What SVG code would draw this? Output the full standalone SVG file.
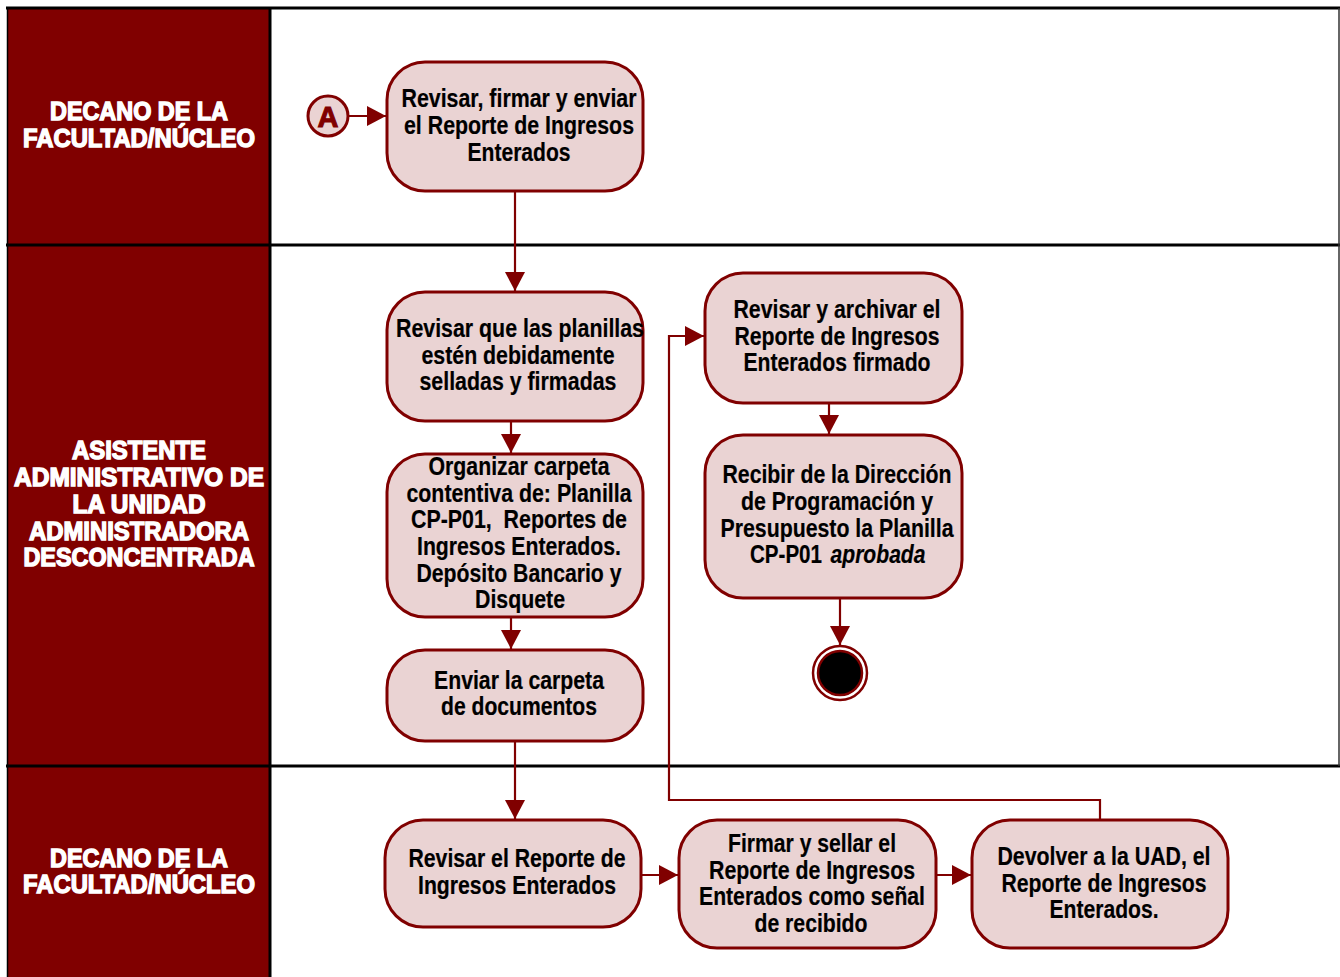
<svg xmlns="http://www.w3.org/2000/svg" width="1340" height="977" viewBox="0 0 1340 977">
<style>
.lane{fill:#800000}
.hdr{font-family:"Liberation Sans",Arial,sans-serif;font-weight:bold;font-size:25px;fill:#fff;stroke:#fff;stroke-width:1.4;text-anchor:middle}
.box{fill:#ead3d3;stroke:#800000;stroke-width:3}
.t{font-family:"Liberation Sans Narrow","Liberation Sans",Arial,sans-serif;font-weight:bold;font-size:25px;fill:#000;stroke:#000;stroke-width:0.2;text-anchor:middle}
.c{fill:none;stroke:#800000;stroke-width:2.2}
.grid{stroke:#000;stroke-width:3}
</style>
<defs>
<marker id="ah" markerUnits="userSpaceOnUse" markerWidth="20" markerHeight="20" refX="19" refY="10" orient="auto">
<path d="M0,0 L19,10 L0,20 Z" fill="#800000"/>
</marker>
</defs>
<rect x="0" y="0" width="1340" height="977" fill="#fff"/>
<g id="lanes">
<rect class="lane" x="8" y="9" width="262" height="968"/>
<line class="grid" x1="6" y1="8" x2="1340" y2="8"/>
<line x1="7.5" y1="8" x2="7.5" y2="977" stroke="#000" stroke-width="1.5"/>
<line class="grid" x1="270" y1="8" x2="270" y2="977"/>
<line class="grid" x1="6" y1="245" x2="1340" y2="245"/>
<line class="grid" x1="6" y1="766" x2="1340" y2="766"/>
<line x1="1339" y1="8" x2="1339" y2="766" stroke="#333" stroke-width="1.5"/>
<text class="hdr" x="139" y="120" textLength="178" lengthAdjust="spacingAndGlyphs">DECANO DE LA</text>
<text class="hdr" x="139" y="147" textLength="232" lengthAdjust="spacingAndGlyphs">FACULTAD/NÚCLEO</text>
<text class="hdr" x="139" y="459" textLength="134" lengthAdjust="spacingAndGlyphs">ASISTENTE</text>
<text class="hdr" x="139" y="486" textLength="250" lengthAdjust="spacingAndGlyphs">ADMINISTRATIVO DE</text>
<text class="hdr" x="139" y="513" textLength="133" lengthAdjust="spacingAndGlyphs">LA UNIDAD</text>
<text class="hdr" x="139" y="540" textLength="220" lengthAdjust="spacingAndGlyphs">ADMINISTRADORA</text>
<text class="hdr" x="139" y="566" textLength="231" lengthAdjust="spacingAndGlyphs">DESCONCENTRADA</text>
<text class="hdr" x="139" y="867" textLength="178" lengthAdjust="spacingAndGlyphs">DECANO DE LA</text>
<text class="hdr" x="139" y="893" textLength="232" lengthAdjust="spacingAndGlyphs">FACULTAD/NÚCLEO</text>
</g>
<g id="connectors">
<line class="c" x1="349" y1="116" x2="386" y2="116" marker-end="url(#ah)"/>
<line class="c" x1="515" y1="192" x2="515" y2="291" marker-end="url(#ah)"/>
<line class="c" x1="511" y1="422" x2="511" y2="453" marker-end="url(#ah)"/>
<line class="c" x1="511" y1="618" x2="511" y2="649" marker-end="url(#ah)"/>
<line class="c" x1="515" y1="742" x2="515" y2="819" marker-end="url(#ah)"/>
<line class="c" x1="642" y1="875" x2="678" y2="875" marker-end="url(#ah)"/>
<line class="c" x1="937" y1="875" x2="971" y2="875" marker-end="url(#ah)"/>
<polyline class="c" points="1100,819 1100,800 669,800 669,336 704,336" marker-end="url(#ah)"/>
<line class="c" x1="829" y1="404" x2="829" y2="434" marker-end="url(#ah)"/>
<line class="c" x1="840" y1="599" x2="840" y2="645" marker-end="url(#ah)"/>
</g>
<g id="start_A">
<circle cx="328" cy="116" r="20" fill="#ead3d3" stroke="#800000" stroke-width="3"/>
<text x="328" y="127" font-family="Liberation Sans,Arial,sans-serif" font-weight="bold" font-size="29" fill="#800000" stroke="#800000" stroke-width="1" text-anchor="middle">A</text>
</g>
<g id="n1">
<rect class="box" x="387" y="62" width="256" height="129" rx="38"/>
<text class="t" x="519" y="107" textLength="235" lengthAdjust="spacingAndGlyphs">Revisar, firmar y enviar</text>
<text class="t" x="519" y="134" textLength="230" lengthAdjust="spacingAndGlyphs">el Reporte de Ingresos</text>
<text class="t" x="519" y="161" textLength="103" lengthAdjust="spacingAndGlyphs">Enterados</text>
</g>
<g id="n2">
<rect class="box" x="387" y="292" width="256" height="129" rx="38"/>
<text class="t" x="520" y="337" textLength="248" lengthAdjust="spacingAndGlyphs">Revisar que las planillas</text>
<text class="t" x="518" y="364" textLength="193" lengthAdjust="spacingAndGlyphs">estén debidamente</text>
<text class="t" x="518" y="390" textLength="197" lengthAdjust="spacingAndGlyphs">selladas y firmadas</text>
</g>
<g id="n3">
<rect class="box" x="387" y="454" width="256" height="163" rx="38"/>
<text class="t" x="519" y="475" textLength="181" lengthAdjust="spacingAndGlyphs">Organizar carpeta</text>
<text class="t" x="519" y="502" textLength="225" lengthAdjust="spacingAndGlyphs">contentiva de: Planilla</text>
<text class="t" x="519" y="528" textLength="216" lengthAdjust="spacingAndGlyphs" xml:space="preserve">CP-P01,  Reportes de</text>
<text class="t" x="519" y="555" textLength="204" lengthAdjust="spacingAndGlyphs">Ingresos Enterados.</text>
<text class="t" x="519" y="582" textLength="205" lengthAdjust="spacingAndGlyphs">Depósito Bancario y</text>
<text class="t" x="520" y="608" textLength="90" lengthAdjust="spacingAndGlyphs">Disquete</text>
</g>
<g id="n4">
<rect class="box" x="387" y="650" width="256" height="91" rx="38"/>
<text class="t" x="519" y="689" textLength="170" lengthAdjust="spacingAndGlyphs">Enviar la carpeta</text>
<text class="t" x="519" y="715" textLength="156" lengthAdjust="spacingAndGlyphs">de documentos</text>
</g>
<g id="n5">
<rect class="box" x="705" y="273" width="257" height="130" rx="38"/>
<text class="t" x="837" y="318" textLength="207" lengthAdjust="spacingAndGlyphs">Revisar y archivar el</text>
<text class="t" x="837" y="345" textLength="205" lengthAdjust="spacingAndGlyphs">Reporte de Ingresos</text>
<text class="t" x="837" y="371" textLength="187" lengthAdjust="spacingAndGlyphs">Enterados firmado</text>
</g>
<g id="n6">
<rect class="box" x="705" y="435" width="257" height="163" rx="38"/>
<text class="t" x="837" y="483" textLength="229" lengthAdjust="spacingAndGlyphs">Recibir de la Dirección</text>
<text class="t" x="837" y="510" textLength="192" lengthAdjust="spacingAndGlyphs">de Programación y</text>
<text class="t" x="837" y="537" textLength="233" lengthAdjust="spacingAndGlyphs">Presupuesto la Planilla</text>
<text class="t" x="786" y="563" textLength="72" lengthAdjust="spacingAndGlyphs">CP-P01</text>
<text class="t" x="878" y="563" textLength="95" lengthAdjust="spacingAndGlyphs" font-style="italic">aprobada</text>
</g>
<g id="end">
<circle cx="840" cy="673" r="27" fill="#fff" stroke="#800000" stroke-width="2.5"/>
<circle cx="840" cy="673" r="22" fill="#000" stroke="#800000" stroke-width="2.5"/>
</g>
<g id="n7">
<rect class="box" x="385" y="820" width="256" height="107" rx="38"/>
<text class="t" x="517" y="867" textLength="217" lengthAdjust="spacingAndGlyphs">Revisar el Reporte de</text>
<text class="t" x="517" y="894" textLength="198" lengthAdjust="spacingAndGlyphs">Ingresos Enterados</text>
</g>
<g id="n8">
<rect class="box" x="679" y="820" width="257" height="128" rx="38"/>
<text class="t" x="812" y="852" textLength="168" lengthAdjust="spacingAndGlyphs">Firmar y sellar el</text>
<text class="t" x="812" y="879" textLength="206" lengthAdjust="spacingAndGlyphs">Reporte de Ingresos</text>
<text class="t" x="812" y="905" textLength="226" lengthAdjust="spacingAndGlyphs">Enterados como señal</text>
<text class="t" x="811" y="932" textLength="113" lengthAdjust="spacingAndGlyphs">de recibido</text>
</g>
<g id="n9">
<rect class="box" x="972" y="820" width="256" height="128" rx="38"/>
<text class="t" x="1104" y="865" textLength="213" lengthAdjust="spacingAndGlyphs">Devolver a la UAD, el</text>
<text class="t" x="1104" y="892" textLength="205" lengthAdjust="spacingAndGlyphs">Reporte de Ingresos</text>
<text class="t" x="1104" y="918" textLength="109" lengthAdjust="spacingAndGlyphs">Enterados.</text>
</g>
</svg>
